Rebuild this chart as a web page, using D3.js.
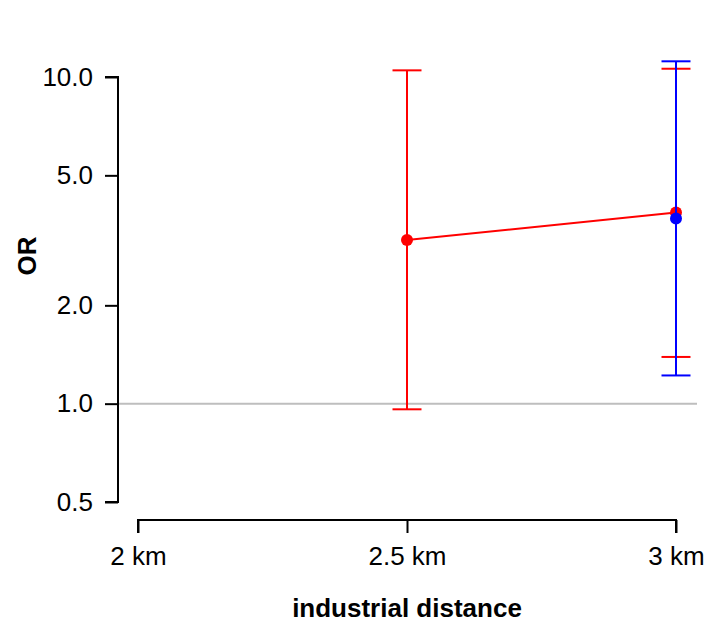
<!DOCTYPE html>
<html>
<head>
<meta charset="utf-8">
<script src="https://cdn.jsdelivr.net/npm/d3@7"></script>
<style>
  body { margin: 0; background: #fff; }
  text { font-family: "Liberation Sans", Arial, sans-serif; }
</style>
</head>
<body>
<script>
// tick values and labels
const xTicks = [2, 2.5, 3];
const xTickLabels = ["2 km", "2.5 km", "3 km"];
const yTicks = [0.5, 1, 2, 5, 10];

// red series
const redDist = [2.5, 3];
const redOR = [3.17, 3.85];
const redLo = [0.961, 1.39];
const redHi = [10.48, 10.6];

// blue series
const blueDist = [3];
const blueOR = [3.69];
const blueLo = [1.22];
const blueHi = [11.17];

const width = 712, height = 624;

const svg = d3.select("body").append("svg")
    .attr("width", width)
    .attr("height", height);

const x = d3.scaleLinear().domain([2, 3]).range([138, 676]);
const y = d3.scaleLog().domain([0.5, 10]).range([502, 77]);

// reference line at OR = 1
svg.append("line")
    .attr("x1", 118).attr("x2", 697)
    .attr("y1", y(1)).attr("y2", y(1))
    .attr("stroke", "#bebebe")
    .attr("stroke-width", 2);

// y axis
const yAxis = svg.append("g")
    .attr("transform", "translate(118,0)")
    .call(d3.axisLeft(y).tickValues(yTicks).tickFormat(d3.format(".1f")).tickSize(13).tickPadding(12));
yAxis.select(".domain").attr("d", `M-13,${y(0.5)}H0V${y(10)}H-13`).attr("stroke-width", 2);
yAxis.selectAll(".tick line").attr("stroke-width", 2);
yAxis.selectAll("text").style("font-size", "26px").attr("fill", "#000");

// x axis
const xAxis = svg.append("g")
    .attr("transform", "translate(0,520)")
    .call(d3.axisBottom(x).tickValues(xTicks).tickFormat((d, i) => xTickLabels[i]).tickSize(13).tickPadding(14));
xAxis.select(".domain").attr("d", `M${x(2)},13V0H${x(3)}V13`).attr("stroke-width", 2);
xAxis.selectAll(".tick line").attr("stroke-width", 2);
xAxis.selectAll("text").style("font-size", "26px").attr("fill", "#000");

// axis titles
svg.append("text")
    .attr("x", 407).attr("y", 617)
    .attr("text-anchor", "middle")
    .style("font-size", "26px").style("font-weight", "bold")
    .text("industrial distance");

svg.append("text")
    .attr("transform", "translate(36,256) rotate(-90)")
    .attr("text-anchor", "middle")
    .style("font-size", "26px").style("font-weight", "bold")
    .text("OR");

function drawSeries(dist, or, lo, hi, color) {
    const data = dist.map((d, i) => ({ d: d, or: or[i], lo: lo[i], hi: hi[i] }));
    const g = svg.append("g");

    g.selectAll(".bar").data(data).enter().append("line")
        .attr("x1", d => x(d.d)).attr("x2", d => x(d.d))
        .attr("y1", d => y(d.lo)).attr("y2", d => y(d.hi))
        .attr("stroke", color).attr("stroke-width", 2);

    ["lo", "hi"].forEach(k => {
        g.selectAll(".cap-" + k).data(data).enter().append("line")
            .attr("x1", d => x(d.d) - 14.5).attr("x2", d => x(d.d) + 14.5)
            .attr("y1", d => y(d[k])).attr("y2", d => y(d[k]))
            .attr("stroke", color).attr("stroke-width", 2);
    });

    if (data.length > 1) {
        g.append("path")
            .datum(data)
            .attr("fill", "none")
            .attr("stroke", color)
            .attr("stroke-width", 2)
            .attr("d", d3.line().x(d => x(d.d)).y(d => y(d.or)));
    }

    g.selectAll(".pt").data(data).enter().append("circle")
        .attr("cx", d => x(d.d)).attr("cy", d => y(d.or))
        .attr("r", 6)
        .attr("fill", color);
}

drawSeries(redDist, redOR, redLo, redHi, "#ff0000");
drawSeries(blueDist, blueOR, blueLo, blueHi, "#0000ff");
</script>
</body>
</html>
